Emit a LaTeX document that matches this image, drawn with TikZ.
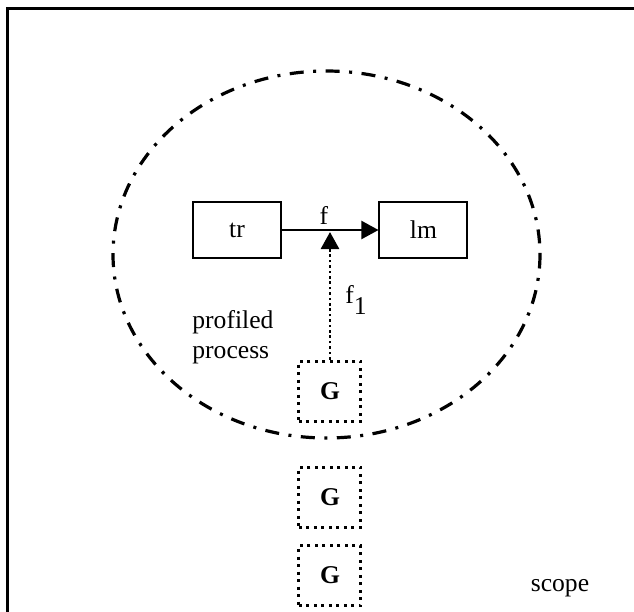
\documentclass[tikz,border=0pt]{standalone}
\usepackage{fontspec}
\setmainfont{Liberation Serif}
\usetikzlibrary{arrows.meta}

\newcommand{\figfont}{\fontsize{12.8}{15}\selectfont}

\tikzset{
  procbox/.style={draw, line width=1pt, minimum width=44pt, minimum height=28pt, font=\figfont},
  gbox/.style={draw, line width=1.5pt, dash pattern=on 1.5pt off 2.25pt, minimum width=31pt, minimum height=30pt, font=\figfont\bfseries},
  lbl/.style={font=\figfont, inner sep=0pt},
  tip/.style={-{Triangle[length=8.5pt, width=9pt]}}
}

\begin{document}
\begin{tikzpicture}[x=0.5pt, y=-0.5pt]

% the page and the frame
\clip (0,0) rectangle (634,612);
\draw[line width=1.5pt] (8,8) rectangle (650,630);

% the profiled process
\draw[line width=1.6pt, dash pattern=on 7pt off 4.75pt on 1.5pt off 4.75pt] (326.5,254.5) ellipse [x radius=213.5, y radius=183.5];

% the boxes
\node[procbox] (tr) at (237,230) {tr};
\node[procbox] (lm) at (423.5,230) {lm};

\node[gbox] (g1) at (330,391) {G};
\node[gbox] (g2) at (330,497) {G};
\node[gbox] (g3) at (330,575.5) {G};

% the arrows
\draw[line width=1pt, tip] (tr.east) -- (lm.west);
\coordinate (fmid) at (g1.north |- tr.east);
\draw[line width=1.4pt, dash pattern=on 1.3pt off 1.4pt, tip] (g1.north) -- ([yshift=-1pt]fmid);

% the labels
\node[lbl] (flbl) at (324,215) {f};
\node[lbl] (f1lbl) at (356,300) {f\raisebox{-0.9ex}{1}};
\node[lbl, anchor=west, align=left] (prof) at (192,337) {profiled\\process};
\node[lbl] (scope) at (560,588) {scope};

\end{tikzpicture}
\end{document}
